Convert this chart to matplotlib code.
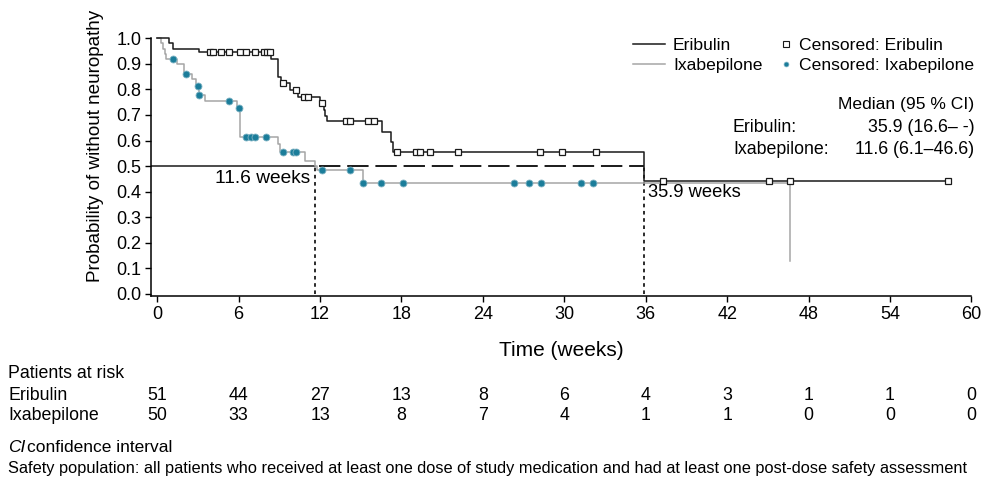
import matplotlib
matplotlib.use('Agg')
import matplotlib.pyplot as plt
import matplotlib.transforms as mtransforms
import numpy as np

plt.rcParams['font.family'] = ['Liberation Sans', 'DejaVu Sans']

# Kaplan-Meier steps (time in weeks, survival after step)
eri_t = [0, 0.9, 1.2, 3.1, 8.4, 8.9, 9.1, 9.8, 10.4, 12.0, 12.3, 12.4, 12.5, 16.6, 17.2, 17.4, 35.9, 58.3]
eri_s = [1.0, 0.98, 0.96, 0.946, 0.92, 0.85, 0.825, 0.797, 0.772, 0.745, 0.72, 0.695, 0.675, 0.635, 0.595, 0.556, 0.443, 0.443]
eri_cens = [3.86, 4.08, 4.7, 5.31, 6.07, 6.57, 7.23, 7.84, 8.1, 8.29, 9.3, 10.26, 10.85, 11.14, 12.18,
            13.95, 14.24, 15.5, 16.0, 17.64, 19.1, 19.4, 20.07, 22.2, 28.2, 29.8, 32.3, 37.3, 45.1, 46.6, 58.3]

ixa_t = [0, 0.3, 0.45, 0.55, 0.65, 1.45, 1.95, 2.56, 2.9, 3.05, 3.5, 5.9, 6.1, 8.9, 9.08, 10.87, 11.6, 11.8, 15.18, 46.6]
ixa_s = [1.0, 0.98, 0.96, 0.94, 0.92, 0.90, 0.86, 0.84, 0.815, 0.78, 0.755, 0.728, 0.615, 0.585, 0.555, 0.52, 0.50, 0.483, 0.435, 0.13]
ixa_cens = [1.16, 2.14, 2.98, 3.1, 5.3, 6.05, 6.55, 6.94, 7.23, 8.02, 9.28, 10.0, 10.2, 12.15, 14.2,
            15.2, 16.46, 18.1, 26.3, 27.4, 28.3, 31.2, 32.15]

median_eri = 35.9
median_ixa = 11.6

risk_times = [0, 6, 12, 18, 24, 30, 36, 42, 48, 54, 60]
risk_eri = [51, 44, 27, 13, 8, 6, 4, 3, 1, 1, 0]
risk_ixa = [50, 33, 13, 8, 7, 4, 1, 1, 0, 0, 0]


def km_at(times, surv, t):
    idx = np.searchsorted(times, t, side='right') - 1
    return np.array(surv)[idx]


black = '#1a1a1a'
grey = '#a6a6a6'
teal = '#1b7d9a'

fig = plt.figure(figsize=(9.82, 4.84), dpi=100)
ax = fig.add_axes([0.1538, 0.3874, 0.8355, 0.5335])

# median reference lines
ax.plot([-0.45, median_ixa], [0.5, 0.5], color=black, lw=1.1)
ax.plot([median_ixa + 0.3, median_eri], [0.5, 0.5], color=black, lw=1.4, dashes=(11, 3.5))
ax.plot([median_ixa, median_ixa], [0, 0.5], color=black, lw=1.3, dashes=(2, 2))
ax.plot([median_eri, median_eri], [0, 0.5], color=black, lw=1.3, dashes=(2, 2))

ax.step(ixa_t, ixa_s, where='post', color=grey, lw=1.1, clip_on=False)
ax.step(eri_t, eri_s, where='post', color=black, lw=1.1, clip_on=False)

ax.plot(eri_cens, km_at(eri_t, eri_s, eri_cens), ls='none', marker='s', ms=5,
        mfc='white', mec=black, mew=0.9, clip_on=False)
ax.plot(ixa_cens, km_at(ixa_t, ixa_s, ixa_cens), ls='none', marker='o', ms=5,
        mfc=teal, mec='#7fb3c4', mew=0.6, clip_on=False)

ax.text(median_ixa - 0.35, 0.485, '11.6 weeks', ha='right', va='top', fontsize=13.8)
ax.text(median_eri + 0.25, 0.43, '35.9 weeks', ha='left', va='top', fontsize=13.2)

ax.set_xlim(-0.45, 60)
ax.set_ylim(-0.01, 1.0)
ax.set_xticks(risk_times)
ax.set_yticks(np.arange(0, 1.01, 0.1))
ax.set_yticklabels([f'{v:.1f}' for v in np.arange(0, 1.01, 0.1)])
ax.tick_params(labelsize=13, length=4, width=1, direction='out', pad=3)
for s in ['top', 'right']:
    ax.spines[s].set_visible(False)
for s in ['left', 'bottom']:
    ax.spines[s].set_linewidth(1.1)
ax.set_xlabel('Time (weeks)', fontsize=15, labelpad=13)
ax.set_ylabel('Probability of without neuropathy', fontsize=13.6)
ax.yaxis.set_label_coords(-0.057, 0.585)

# legend: two blocks so the marker sits close to its text
h_eri = plt.Line2D([], [], color=black, lw=1.1)
h_ixa = plt.Line2D([], [], color=grey, lw=1.1)
h_ce = plt.Line2D([], [], ls='none', marker='s', ms=4, mfc='white', mec=black, mew=0.8)
h_ci = plt.Line2D([], [], ls='none', marker='o', ms=3.5, mfc=teal, mec='#7fb3c4', mew=0.5)
fig.legend([h_eri, h_ixa], ['Eribulin', 'Ixabepilone'],
           loc='upper left', bbox_to_anchor=(633 / 982, 1 - 38 / 484), frameon=False,
           fontsize=12.6, handlelength=1.83, handletextpad=0.45,
           labelspacing=0.25, borderpad=0, borderaxespad=0)
fig.legend([h_ce, h_ci], ['Censored: Eribulin', 'Censored: Ixabepilone'],
           loc='upper left', bbox_to_anchor=(781 / 982, 1 - 38 / 484), frameon=False,
           fontsize=12.6, handlelength=0.6, handletextpad=0.45,
           labelspacing=0.25, borderpad=0, borderaxespad=0)

# median table
fig.text(0.992, 1 - 104 / 484, 'Median (95 % CI)', ha='right', va='center', fontsize=12.6)
fig.text(733 / 982, 1 - 127 / 484, 'Eribulin:', ha='left', va='center', fontsize=12.8)
fig.text(0.992, 1 - 127 / 484, '35.9 (16.6– -)', ha='right', va='center', fontsize=12.8)
fig.text(733 / 982, 1 - 150 / 484, 'Ixabepilone:', ha='left', va='center', fontsize=12.8)
fig.text(0.992, 1 - 150 / 484, '11.6 (6.1–46.6)', ha='right', va='center', fontsize=12.8)

# patients at risk
trans = mtransforms.blended_transform_factory(ax.transData, fig.transFigure)
fig.text(8 / 982, 1 - 373 / 484, 'Patients at risk', ha='left', va='center', fontsize=12.8)
fig.text(8 / 982, 1 - 395 / 484, 'Eribulin', ha='left', va='center', fontsize=12.8)
fig.text(8 / 982, 1 - 416 / 484, 'Ixabepilone', ha='left', va='center', fontsize=12.8)
for t, a, b in zip(risk_times, risk_eri, risk_ixa):
    ax.text(t, 1 - 395 / 484, str(a), transform=trans, ha='center', va='center', fontsize=12.8)
    ax.text(t, 1 - 416 / 484, str(b), transform=trans, ha='center', va='center', fontsize=12.8)

# footnotes
fig.text(8 / 982, 1 - 447 / 484, 'CI', ha='left', va='center', fontsize=12.5, style='italic')
fig.text(27 / 982, 1 - 447 / 484, 'confidence interval', ha='left', va='center', fontsize=12.5)
fig.text(8 / 982, 1 - 468 / 484,
         'Safety population: all patients who received at least one dose of study medication '
         'and had at least one post-dose safety assessment',
         ha='left', va='center', fontsize=11.8)

fig.savefig('out.png', dpi=100)
